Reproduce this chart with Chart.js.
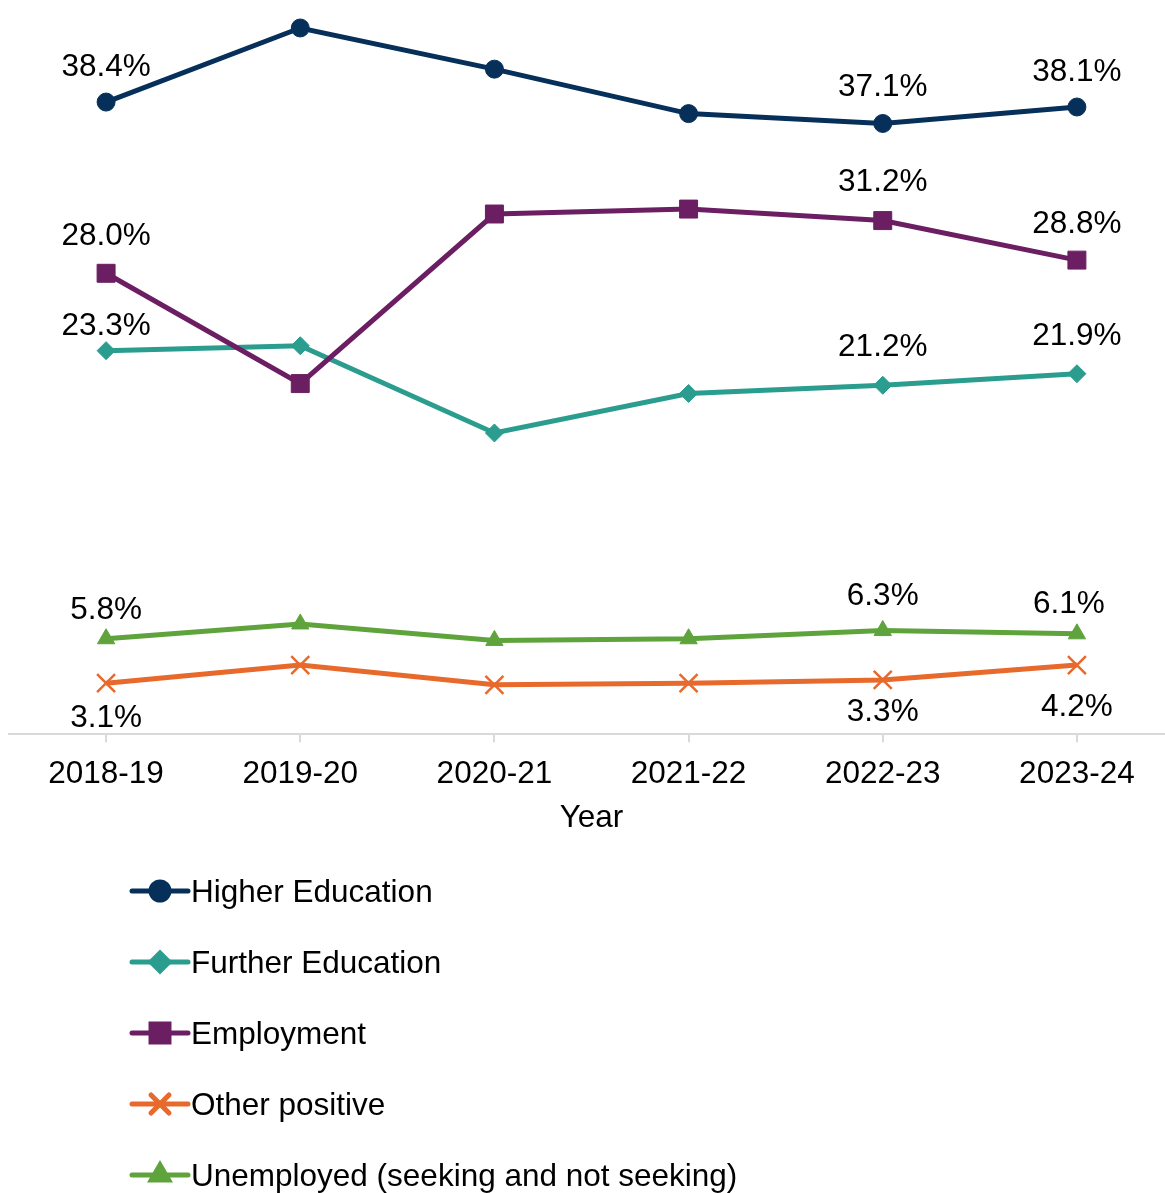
<!DOCTYPE html>
<html>
<head>
<meta charset="utf-8">
<script src="https://cdn.jsdelivr.net/npm/chart.js"></script>
<style>
  html, body { margin: 0; padding: 0; overflow: hidden; background: #fff; }
  body { width: 1165px; height: 1193px; position: relative; font-family: "Liberation Sans", Arial, sans-serif; }
  #caixaGrafico { position: absolute; left: 0; top: 0; width: 1174px; height: 831px; }
  #legenda { position: absolute; left: 0; top: 856px; width: 1165px; }
  .item { position: relative; height: 71px; line-height: 71px; font-size: 31.5px; color: #000; white-space: nowrap; }
  .item canvas { position: absolute; left: 128px; top: 20px; }
  .item span { position: absolute; left: 191px; top: 0; }
</style>
</head>
<body>
<div id="caixaGrafico"><canvas id="grafico"></canvas></div>
<div id="legenda"></div>
<script>
const years = ['2018-19', '2019-20', '2020-21', '2021-22', '2022-23', '2023-24'];
const higherEducation = [38.4, 42.9, 40.4, 37.7, 37.1, 38.1];
const furtherEducation = [23.3, 23.6, 18.3, 20.7, 21.2, 21.9];
const employment = [28.0, 21.3, 31.6, 31.9, 31.2, 28.8];
const otherPositive = [3.1, 4.2, 3.0, 3.1, 3.3, 4.2];
const unemployed = [5.8, 6.7, 5.7, 5.8, 6.3, 6.1];
// only these years get a value label
const labelledPoints = [0, 4, 5];

const fonte = '"Liberation Sans", Arial, sans-serif';
Chart.defaults.font.family = fonte;
Chart.defaults.color = '#000';

function serie(label, data, cor, estilo, raio, extra) {
  return Object.assign({
    label: label,
    data: data,
    borderColor: cor,
    backgroundColor: cor,
    borderWidth: 5,
    tension: 0,
    pointStyle: estilo,
    pointRadius: raio,
    pointHoverRadius: raio,
    pointBackgroundColor: cor,
    pointBorderColor: cor,
    pointBorderWidth: 1
  }, extra);
}

// draws the % labels next to the chosen points
const rotulos = {
  id: 'rotulos',
  afterDatasetsDraw(chart) {
    const ctx = chart.ctx;
    ctx.save();
    ctx.font = '31.5px ' + fonte;
    ctx.fillStyle = '#000';
    ctx.textAlign = 'center';
    ctx.textBaseline = 'middle';
    chart.data.datasets.forEach((ds, i) => {
      const meta = chart.getDatasetMeta(i);
      labelledPoints.forEach((j, k) => {
        const p = meta.data[j];
        const dx = ds.labelShift ? ds.labelShift[k] : 0;
        ctx.fillText(ds.data[j].toFixed(1) + '%', p.x + dx, p.y - ds.labelOffset[k]);
      });
    });
    ctx.restore();
  }
};

const datasets = [
  serie('Higher Education', higherEducation, '#06305a', 'circle', 9, {labelOffset: [35, 36, 35]}),
  serie('Further Education', furtherEducation, '#2a9d8f', 'rectRot', 9, {labelOffset: [24, 38, 37]}),
  serie('Employment', employment, '#6b1f62', 'rect', 12.7, {labelOffset: [37, 38, 36], order: -1}),
  serie('Other positive', otherPositive, '#e8692c', 'crossRot', 12.7, {labelOffset: [-35, -32, -42], pointBorderWidth: 2.5}),
  serie('Unemployed (seeking and not seeking)', unemployed, '#5fa33c', 'triangle', 10, {labelOffset: [28, 34, 30], labelShift: [0, 0, -8]})
];

const grafico = new Chart(document.getElementById('grafico'), {
  type: 'line',
  data: { labels: years, datasets: datasets },
  options: {
    responsive: true,
    maintainAspectRatio: false,
    animation: false,
    layout: { autoPadding: false, padding: { left: 9, right: 0, top: 0, bottom: 0 } },
    plugins: {
      legend: { display: false },
      tooltip: { enabled: false }
    },
    scales: {
      x: {
        offset: true,
        grid: {
          display: true,
          drawOnChartArea: false,
          drawTicks: true,
          tickLength: 8,
          offset: false,
          color: '#d9d9d9',
          lineWidth: 2
        },
        border: { display: true, color: '#d9d9d9', width: 2 },
        ticks: { font: { size: 31.5, lineHeight: 1.8 }, color: '#000', padding: 4, maxRotation: 0, autoSkip: false },
        title: { display: true, text: 'Year', font: { size: 31.5, lineHeight: 0.7 }, color: '#000', padding: { top: 0, bottom: 2 } }
      },
      y: { display: false, min: 0, max: 44.6 }
    }
  },
  plugins: [rotulos]
});

// legend as a vertical list below the chart
const legenda = document.getElementById('legenda');
datasets.forEach(ds => {
  const item = document.createElement('div');
  item.className = 'item';
  const simbolo = document.createElement('canvas');
  simbolo.width = 64;
  simbolo.height = 30;
  const c = simbolo.getContext('2d');
  c.strokeStyle = ds.borderColor;
  c.lineWidth = 5;
  c.lineCap = 'round';
  c.beginPath();
  c.moveTo(4, 15);
  c.lineTo(60, 15);
  c.stroke();
  c.fillStyle = ds.pointBackgroundColor;
  c.strokeStyle = ds.pointBorderColor;
  Chart.helpers.drawPoint(c, {
    pointStyle: ds.pointStyle,
    radius: ds.pointRadius,
    borderWidth: ds.pointBorderWidth,
    rotation: 0
  }, 32, 15);
  const texto = document.createElement('span');
  texto.textContent = ds.label;
  item.appendChild(simbolo);
  item.appendChild(texto);
  legenda.appendChild(item);
});
</script>
</body>
</html>
